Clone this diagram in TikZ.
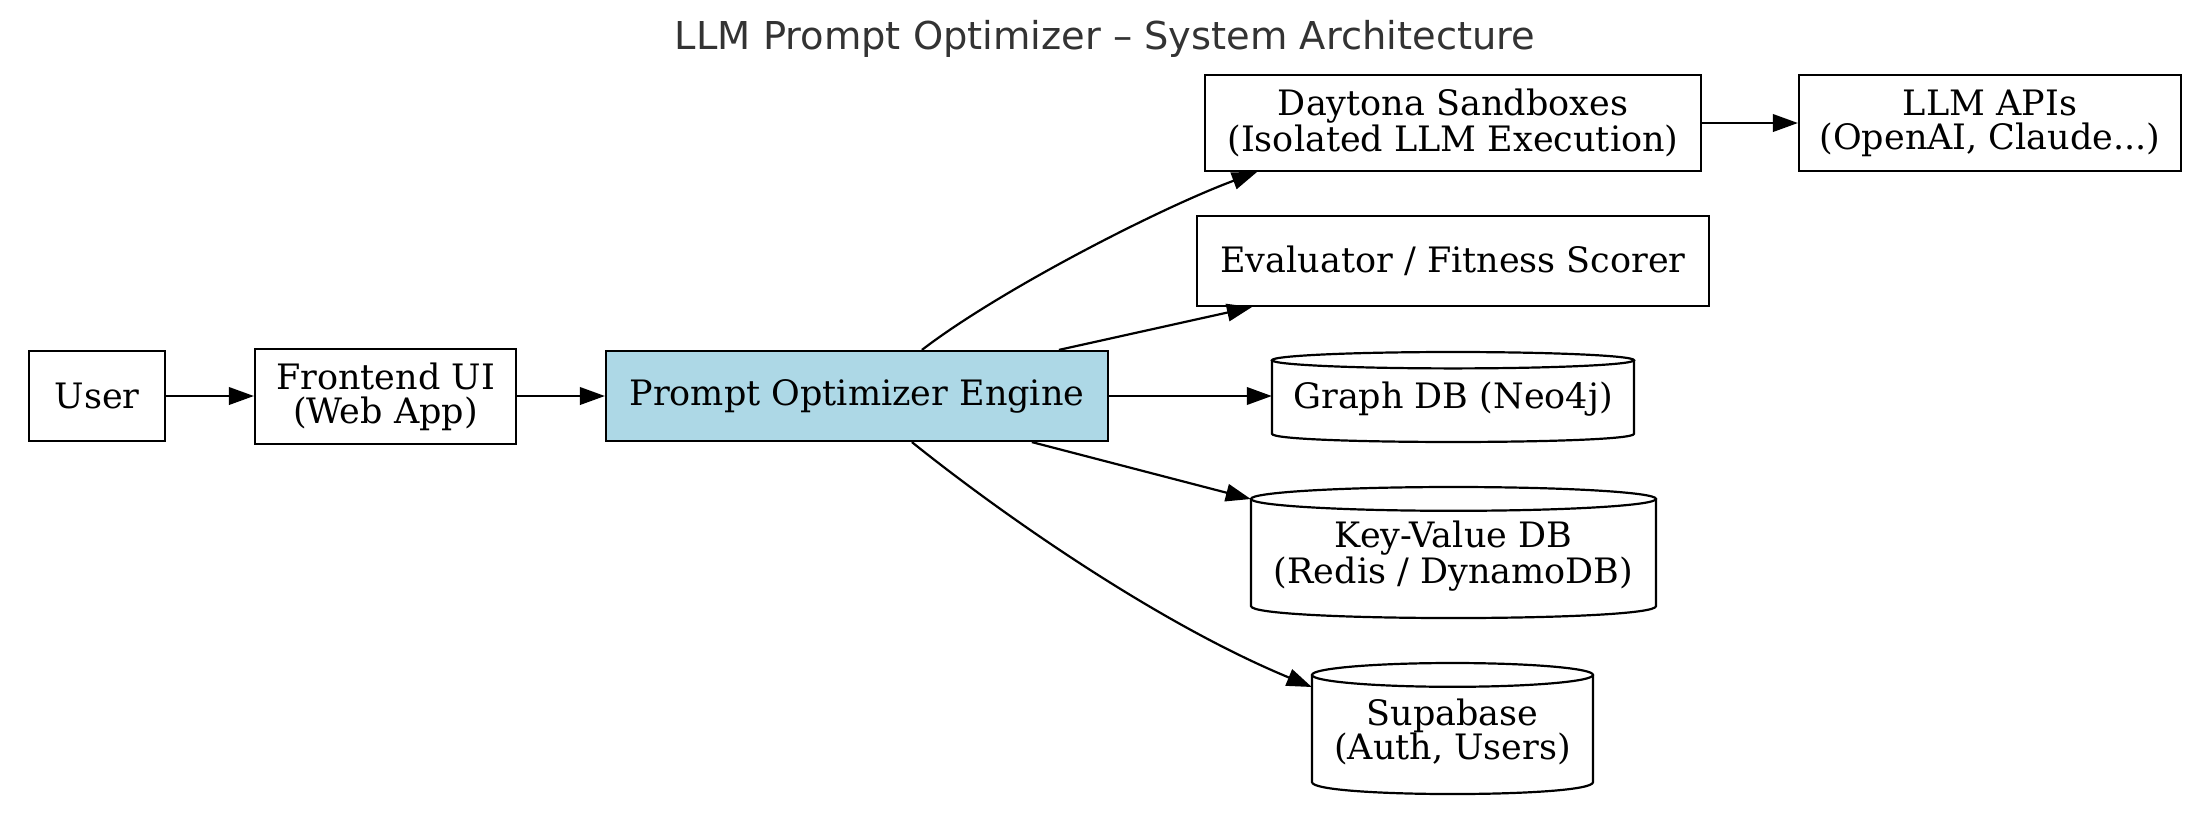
\documentclass[tikz,border=0pt]{standalone}
\usepackage{fontspec}
\setmainfont{DejaVu Serif}
\newfontfamily\titlefont{DejaVu Sans}
\usetikzlibrary{arrows.meta}
\definecolor{engblue}{HTML}{ADD8E6}
\definecolor{titlegray}{HTML}{333333}
\begin{document}
\begin{tikzpicture}[x=1pt,y=-1pt,
  box/.style={draw=black, line width=2.2pt, inner sep=0pt, align=center,
    font=\fontsize{35}{34}\selectfont},
  cyltext/.style={inner sep=0pt, align=center, font=\fontsize{35}{34}\selectfont},
  cylline/.style={draw=black, line width=2.2pt},
  conn/.style={draw=black, line width=2.2pt, -{Triangle[length=25pt,width=17.5pt]}}
]
\useasboundingbox (0,0) rectangle (2210,823);

% title
\node[font=\titlefont\fontsize{38.4}{40}\selectfont, text=titlegray, anchor=base] (title) at (1105,49) {LLM Prompt Optimizer – System Architecture};

% boxes
\node[box, minimum width=136pt, minimum height=90pt] (user) at (97,396) {User};
\node[box, minimum width=261pt, minimum height=95pt] (front) at (385.5,396.5) {Frontend UI\\(Web App)};
\node[box, fill=engblue, minimum width=502pt, minimum height=90pt] (engine) at (857,396) {Prompt Optimizer Engine};
\node[box, minimum width=496pt, minimum height=96pt] (dayt) at (1453,123) {Daytona Sandboxes\\(Isolated LLM Execution)};
\node[box, minimum width=382pt, minimum height=96pt] (llm) at (1990,123) {LLM APIs\\(OpenAI, Claude...)};
\node[box, minimum width=512pt, minimum height=90pt] (eval) at (1453,261) {Evaluator / Fitness Scorer};

% cylinders: Graph DB  L1272 R1634 T352 B442 r8.2
\draw[cylline] (1453,360.2) ellipse [x radius=181, y radius=8.2];
\draw[cylline] (1272,360.2) -- (1272,433.8) .. controls (1272,444.7) and (1634,444.7) .. (1634,433.8) -- (1634,360.2);
\node[cyltext, minimum width=362pt, minimum height=90pt] (gdb) at (1453,399) {Graph DB (Neo4j)};

% Key-Value  L1251 R1656 T487 B618 r11.9
\draw[cylline] (1453.5,498.9) ellipse [x radius=202.5, y radius=11.9];
\draw[cylline] (1251,498.9) -- (1251,606.1) .. controls (1251,622) and (1656,622) .. (1656,606.1) -- (1656,498.9);
\node[cyltext, minimum width=405pt, minimum height=131pt] (kv) at (1453.5,556) {Key-Value DB\\(Redis / DynamoDB)};

% Supabase  L1312 R1593 T663 B794 r11.9
\draw[cylline] (1452.5,674.9) ellipse [x radius=140.5, y radius=11.9];
\draw[cylline] (1312,674.9) -- (1312,782.1) .. controls (1312,798) and (1593,798) .. (1593,782.1) -- (1593,674.9);
\node[cyltext, minimum width=281pt, minimum height=131pt] (supa) at (1452.5,732) {Supabase\\(Auth, Users)};

% connectors
\draw[conn] (user.east) -- (user.east -| front.west);
\draw[conn] (front.east |- engine.east) -- (engine.west);
\draw[conn] (dayt.east) -- (llm.west);
\draw[conn] ([xshift=317pt]engine.north west) .. controls (1000,290) and (1160,208) .. ([xshift=53pt]dayt.south west);
\draw[conn] ([xshift=454pt]engine.north west) -- ([xshift=56pt]eval.south west);
\draw[conn] (engine.east) -- (engine.east -| gdb.west);
\draw[conn] ([xshift=427pt]engine.south west) -- ([yshift=57pt]kv.west);
\draw[conn] ([xshift=307pt]engine.south west) .. controls (990,505) and (1150,620) .. ([yshift=45pt]supa.west);
\end{tikzpicture}
\end{document}
